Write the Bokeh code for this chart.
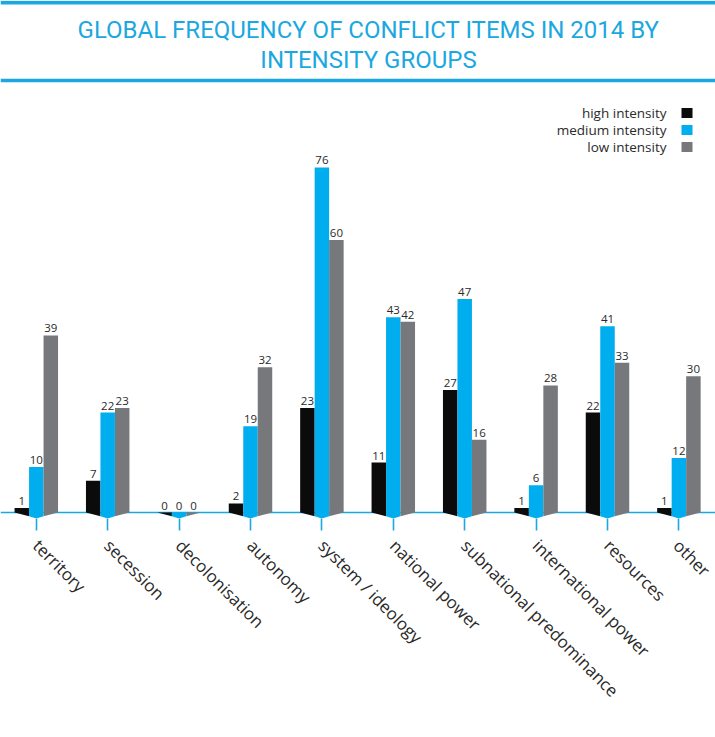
import math
from bokeh.plotting import figure
from bokeh.models import FixedTicker, Span, Range1d
from bokeh.layouts import column
from bokeh.embed import file_html
from bokeh.resources import INLINE
from bokeh.core.properties import value

# ---------------- data ----------------
categories = ["territory", "secession", "decolonisation", "autonomy",
              "system / ideology", "national power", "subnational predominance",
              "international power", "resources", "other"]
high_intensity = [1, 7, 0, 2, 23, 11, 27, 1, 22, 1]
medium_intensity = [10, 22, 0, 19, 76, 43, 47, 6, 41, 12]
low_intensity = [39, 23, 0, 32, 60, 42, 16, 28, 33, 30]
series_names = ["high intensity", "medium intensity", "low intensity"]
title_lines = ["GLOBAL FREQUENCY OF CONFLICT ITEMS IN 2014 BY", "INTENSITY GROUPS"]

# ---------------- style ----------------
COLORS = ["#0b0b0b", "#00aeef", "#77787b"]
CYAN = "#1ba8e0"
TEXT = "#2a2a2a"

W, H_MAIN, H_RULE = 715, 733, 3
FRAME_BOTTOM = 518

# pixel helpers (figure pixels -> data units)
X_PX0, X_STEP = 35.8, 71.4
Y_PX0, Y_K = 512.0, 4.54


def px_x(px):
    return (px - X_PX0) / X_STEP


def px_y(py):
    return (Y_PX0 - py) / Y_K


BW = 0.203      # bar width (category units)
D1 = 0.8        # depth of the slanted base (value units)
D2 = 1.32       # depth of the base tip

p = figure(width=W, height=H_MAIN, toolbar_location=None, output_backend="svg",
           x_range=Range1d(px_x(0), px_x(W)), y_range=Range1d(px_y(FRAME_BOTTOM), px_y(0)),
           y_axis_location=None, min_border_left=0, min_border_right=0,
           min_border_top=0, min_border_bottom=H_MAIN - FRAME_BOTTOM)
p.grid.visible = False
p.outline_line_color = None
p.background_fill_color = "white"

# axis baseline and title rules
p.add_layout(Span(location=0, dimension="width", line_color=CYAN, line_width=1.6, level="underlay"))
p.add_layout(Span(location=px_y(80), dimension="width", line_color=CYAN, line_width=3.5))
p.add_layout(Span(location=px_y(2.2), dimension="width", line_color=CYAN, line_width=3.8))

# bars as polygons with slanted 3D base
series = [high_intensity, medium_intensity, low_intensity]
for s, vals in enumerate(series):
    xs, ys, lx, ly, lt = [], [], [], [], []
    for i, v in enumerate(vals):
        c = i
        left = c + (s - 1.5) * BW
        right = left + BW
        if s == 0:
            xs.append([left, right, right, left])
            ys.append([v, v, -D1, 0])
        elif s == 1:
            xs.append([left, right, right, c, left])
            ys.append([v, v, -D1, -D2, -D1])
        else:
            xs.append([left, right, right, left])
            ys.append([v, v, 0, -D1])
        lx.append((left + right) / 2)
        ly.append(v)
        lt.append(str(v))
    p.patches(xs, ys, fill_color=COLORS[s], line_color=None)
    p.text(lx, ly, text=lt, text_align="center", text_baseline="bottom", y_offset=-3,
           text_font=value("Open Sans"), text_font_size="11.5px", text_color=TEXT)

# title
p.text([px_x(368), px_x(368)], [px_y(29), px_y(59)], text=title_lines,
       text_align="center", text_baseline="middle", text_font=value("Roboto"),
       text_font_size="24px", text_color=CYAN)

# legend (labels left of the swatches)
leg_y = [px_y(112.5), px_y(129.5), px_y(146.5)]
p.text([px_x(666)] * 3, leg_y, text=series_names, text_align="right", text_baseline="middle",
       text_font=value("Open Sans"), text_font_size="13.5px", text_color=TEXT)
p.rect([px_x(686.5)] * 3, leg_y, width=11, height=10, width_units="screen",
       height_units="screen", fill_color=COLORS, line_color=None)

# x axis
ax = p.xaxis[0]
ax.ticker = FixedTicker(ticks=list(range(len(categories))))
ax.major_label_overrides = {i: c for i, c in enumerate(categories)}
ax.axis_line_color = None
ax.major_tick_line_color = CYAN
ax.major_tick_line_width = 1.6
ax.major_tick_in = 0
ax.major_tick_out = 12
ax.minor_tick_line_color = None
ax.major_label_orientation = -math.pi / 4
ax.major_label_standoff = 12
ax.major_label_text_font = "Open Sans"
ax.major_label_text_font_size = "17px"
ax.major_label_text_color = TEXT

# bottom rule
p2 = figure(width=W, height=H_RULE, toolbar_location=None, output_backend="svg",
            x_axis_location=None, y_axis_location=None, min_border=0)
p2.grid.visible = False
p2.outline_line_color = None
p2.background_fill_color = CYAN
p2.border_fill_color = CYAN

layout = column(p, p2, spacing=0)
open("out.html", "w").write(file_html(layout, INLINE))
